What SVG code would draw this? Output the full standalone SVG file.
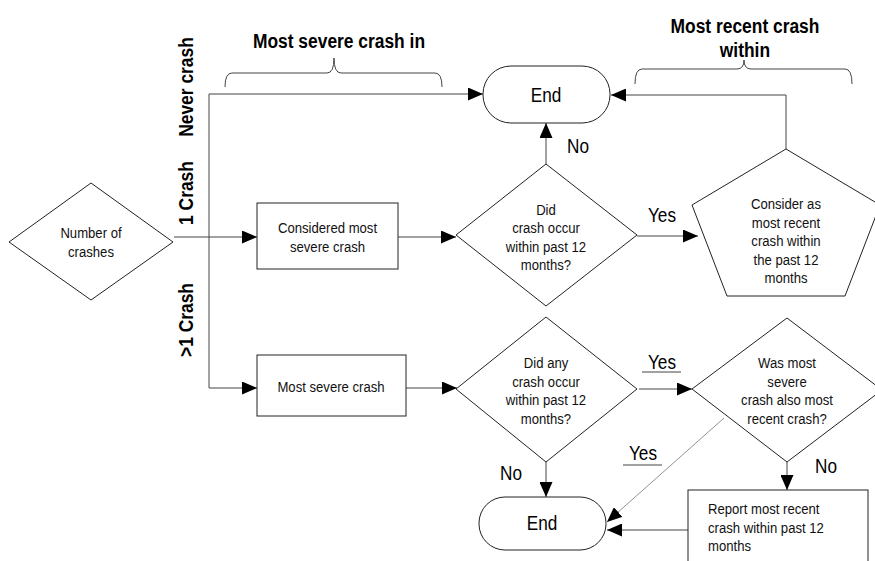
<svg xmlns="http://www.w3.org/2000/svg" width="875" height="561" viewBox="0 0 875 561">
<defs>
<marker id="ah" markerUnits="userSpaceOnUse" markerWidth="15" markerHeight="13" refX="15" refY="6.5" orient="auto">
<path d="M0,0 L15,6.5 L0,13 z" fill="#000"/>
</marker>
<style>
.s{fill:#fff;stroke:#222;stroke-width:1}
.c{fill:none;stroke:#444;stroke-width:1}
text{font-family:"Liberation Sans",Arial,sans-serif;transform-box:fill-box;transform-origin:center}
.t{font-size:15px;fill:#111;text-anchor:middle;transform:scaleX(0.875)}
.tl{font-size:15px;fill:#111;text-anchor:start;transform-origin:left;transform:scaleX(0.875)}
.l{font-size:20px;fill:#000;text-anchor:middle;transform:scaleX(0.86)}
.b{font-size:20px;font-weight:bold;fill:#000;text-anchor:middle;transform:scaleX(0.87)}
</style>
</defs>
<rect width="875" height="561" fill="#fff"/>

<g id="labels">
<text class="b" x="339" y="48">Most severe crash in</text>
<text class="b" x="745" y="33">Most recent crash</text>
<text class="b" x="745" y="57">within</text>
<g transform="translate(193,87) rotate(-90)"><text class="b" x="0" y="0">Never crash</text></g>
<g transform="translate(193,193) rotate(-90)"><text class="b" x="0" y="0">1 Crash</text></g>
<g transform="translate(193,320) rotate(-90)"><text class="b" x="0" y="0">&gt;1 Crash</text></g>
<path class="c" d="M225,87 Q225,73 232,73 L327,73 Q334,73 334,58 Q334,73 341,73 L435,73 Q442,73 442,87"/>
<path class="c" d="M635,84 Q635,69 642,69 L737,69 Q744,69 744,60 Q744,69 751,69 L845,69 Q852,69 852,84"/>
</g>

<g id="connectors">
<path class="c" d="M209,388 L209,94 L483,94" marker-end="url(#ah)"/>
<path class="c" d="M174,237 L257,237" marker-end="url(#ah)"/>
<path class="c" d="M209,388 L257,388" marker-end="url(#ah)"/>
<path class="c" d="M398,237 L456,237" marker-end="url(#ah)"/>
<path class="c" d="M546,164 L546,123" marker-end="url(#ah)"/>
<path class="c" d="M637,236 L698,236" marker-end="url(#ah)"/>
<path class="c" d="M786,149 L786,95 L611,95" marker-end="url(#ah)"/>
<path class="c" d="M406,388 L457,388" marker-end="url(#ah)"/>
<path class="c" d="M639,389 L692,389" marker-end="url(#ah)"/>
<path class="c" d="M546,462 L546,497" marker-end="url(#ah)"/>
<path class="c" d="M787,462 L787,490" marker-end="url(#ah)"/>
<path class="c" d="M688,530 L607,530" marker-end="url(#ah)"/>
<path d="M724,418 L607,522" fill="none" stroke="#777" stroke-width="0.8" marker-end="url(#ah)"/>
<text class="l" x="578" y="153">No</text>
<text class="l" x="662" y="222">Yes</text>
<text class="l" x="662" y="369">Yes</text>
<line class="c" x1="642" y1="372" x2="681" y2="372"/>
<text class="l" x="643" y="460">Yes</text>
<line class="c" x1="623" y1="465" x2="662" y2="465"/>
<text class="l" x="511" y="480">No</text>
<text class="l" x="826" y="473">No</text>
</g>

<g id="n-number">
<polygon class="s" points="9,242 91,183 173,242 91,300"/>
<text class="t" x="91" y="238">Number of</text>
<text class="t" x="91" y="257">crashes</text>
</g>

<g id="n-considered">
<rect class="s" x="257" y="203" width="141" height="66"/>
<text class="t" x="327.5" y="233.5">Considered most</text>
<text class="t" x="327.5" y="252">severe crash</text>
</g>

<g id="n-did">
<polygon class="s" points="456,235 546,164 637,235 546,306"/>
<text class="t" x="546" y="215.5">Did</text>
<text class="t" x="546" y="233.5">crash occur</text>
<text class="t" x="546" y="252">within past 12</text>
<text class="t" x="546" y="270.5">months?</text>
</g>

<g id="n-end1">
<rect class="s" x="483" y="66" width="127" height="57" rx="28" ry="28"/>
<text class="l" x="546" y="102">End</text>
</g>

<g id="n-consider">
<polygon class="s" points="786,149 880,205 845,296 727,296 692,205"/>
<text class="t" x="786" y="209.5">Consider as</text>
<text class="t" x="786" y="228">most recent</text>
<text class="t" x="786" y="246.5">crash within</text>
<text class="t" x="786" y="265">the past 12</text>
<text class="t" x="786" y="283.5">months</text>
</g>

<g id="n-severe">
<rect class="s" x="257" y="355" width="149" height="61"/>
<text class="t" x="331" y="392.5">Most severe crash</text>
</g>

<g id="n-didany">
<polygon class="s" points="456,389 546,317 637,389 546,462"/>
<text class="t" x="546" y="368.5">Did any</text>
<text class="t" x="546" y="387">crash occur</text>
<text class="t" x="546" y="405.5">within past 12</text>
<text class="t" x="546" y="424">months?</text>
</g>

<g id="n-was">
<polygon class="s" points="692,389 787,318 882,390 787,462"/>
<text class="t" x="787" y="368.5">Was most</text>
<text class="t" x="787" y="387">severe</text>
<text class="t" x="787" y="405.5">crash also most</text>
<text class="t" x="787" y="424">recent crash?</text>
</g>

<g id="n-end2">
<rect class="s" x="479" y="497" width="127" height="53" rx="26" ry="26"/>
<text class="l" x="542" y="530">End</text>
</g>

<g id="n-report">
<rect class="s" x="688" y="490" width="180" height="80"/>
<text class="tl" x="708" y="514.5">Report most recent</text>
<text class="tl" x="708" y="533">crash within past 12</text>
<text class="tl" x="708" y="551.5">months</text>
</g>
</svg>
